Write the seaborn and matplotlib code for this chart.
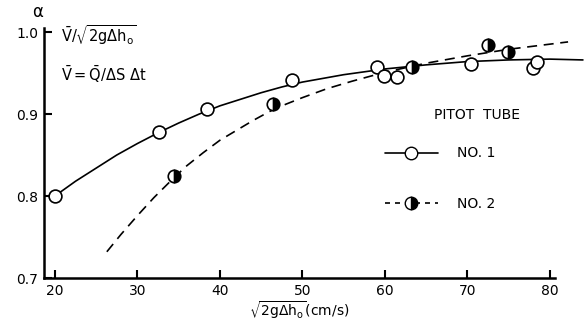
import matplotlib

matplotlib.use("Agg")
import matplotlib.pyplot as plt
import pandas as pd
import seaborn as sns
from matplotlib.lines import Line2D

# measured points, pitot tube No. 1 (open circles)
no1_x = [20.0, 32.6, 38.4, 48.8, 59.0, 59.9, 61.5, 70.4, 77.9, 78.4]
no1_y = [0.800, 0.878, 0.906, 0.941, 0.957, 0.946, 0.945, 0.961, 0.956, 0.963]

# measured points, pitot tube No. 2 (half filled circles)
no2_x = [34.5, 46.4, 63.3, 72.5, 74.9]
no2_y = [0.824, 0.912, 0.957, 0.984, 0.976]

# hand drawn curves
curve1_x = [20, 22.5, 25, 27.5, 30, 32.5, 35, 37.5, 40, 42.5, 45, 47.5,
            50, 55, 60, 65, 70, 75, 80, 84]
curve1_y = [0.800, 0.818, 0.834, 0.850, 0.864, 0.877, 0.889, 0.900,
            0.910, 0.918, 0.926, 0.933, 0.939, 0.948, 0.955, 0.960,
            0.964, 0.966, 0.967, 0.966]
curve2_x = [26.3, 28, 30, 32, 34.5, 36, 38, 40, 42, 44, 46, 48, 50, 53,
            56, 60, 65, 70, 75, 82.2]
curve2_y = [0.732, 0.753, 0.776, 0.798, 0.823, 0.837, 0.853, 0.868,
            0.880, 0.892, 0.903, 0.912, 0.920, 0.931, 0.940, 0.951,
            0.962, 0.971, 0.979, 0.988]

x_ticks = [20, 30, 40, 50, 60, 70, 80]
y_ticks = [0.7, 0.8, 0.9, 1.0]

sns.set_style("ticks")
plt.rcParams["font.family"] = ["DejaVu Sans"]
plt.rcParams["mathtext.fontset"] = "dejavusans"
plt.rcParams["mathtext.default"] = "regular"
plt.rcParams["text.color"] = "black"
plt.rcParams["axes.labelcolor"] = "black"

fig = plt.figure(figsize=(5.85, 3.29), dpi=100)
ax = fig.add_axes([0.075, 0.155, 0.8735, 0.76])

c1 = pd.DataFrame({"x": curve1_x, "y": curve1_y})
c2 = pd.DataFrame({"x": curve2_x, "y": curve2_y})
sns.lineplot(data=c1, x="x", y="y", ax=ax, color="black", lw=1.2,
             sort=False, estimator=None, clip_on=False, zorder=2)
sns.lineplot(data=c2, x="x", y="y", ax=ax, color="black", lw=1.2,
             sort=False, estimator=None, clip_on=False, zorder=2,
             dashes=False, linestyle=(0, (6, 4)))

p1 = pd.DataFrame({"x": no1_x, "y": no1_y})
sns.scatterplot(data=p1, x="x", y="y", ax=ax, s=85, facecolor="white",
                edgecolor="black", linewidth=1.2, zorder=3, clip_on=False)

ax.plot(no2_x, no2_y, linestyle="", marker="o", markersize=9,
        fillstyle="right", markerfacecolor="black",
        markerfacecoloralt="white", markeredgecolor="black",
        markeredgewidth=1.2, zorder=4, clip_on=False)

ax.set_xlim(18.67, 80.6)
ax.set_ylim(0.7, 1.005)
ax.set_xticks(x_ticks)
ax.set_xticklabels([str(v) for v in x_ticks])
ax.set_yticks(y_ticks)
ax.set_yticklabels([f"{v:.1f}" for v in y_ticks])
ax.tick_params(direction="in", length=6, width=1.5, labelsize=10,
               colors="black", pad=4)
sns.despine(ax=ax)
for side in ["left", "bottom"]:
    ax.spines[side].set_linewidth(1.8)
    ax.spines[side].set_color("black")

ax.set_xlabel(r"$\sqrt{2g\Delta h_o}$(cm/s)", fontsize=10, labelpad=1)
ax.set_ylabel("")

fig.text(0.055, 0.935, r"$\alpha$", fontsize=12, ha="left", va="bottom")
fig.text(0.105, 0.895, r"$\bar{V}/\sqrt{2g\Delta h_o}$", fontsize=10.5,
         ha="left", va="center")
fig.text(0.105, 0.775, r"$\bar{V} = \bar{Q}/\Delta S\ \Delta t$",
         fontsize=10.5, ha="left", va="center")
fig.text(0.815, 0.65, "PITOT  TUBE", fontsize=10, ha="center", va="center")

handles = [
    Line2D([], [], color="black", lw=1.2, marker="o", markersize=9,
           markerfacecolor="white", markeredgecolor="black"),
    Line2D([], [], color="black", lw=1.2, linestyle=(0, (3, 3)),
           marker="o", markersize=9, fillstyle="right",
           markerfacecolor="black", markerfacecoloralt="white",
           markeredgecolor="black"),
]
ax.legend(handles, ["NO. 1", "NO. 2"], frameon=False, loc="upper left",
          bbox_to_anchor=(0.643, 0.576), handlelength=3.8,
          labelspacing=2.6, handletextpad=1.4, fontsize=10)

fig.savefig("out.png", dpi=100)
